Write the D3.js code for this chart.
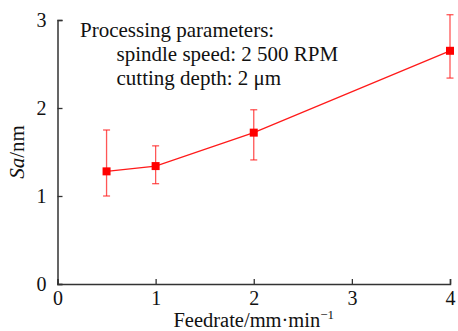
<!DOCTYPE html>
<html>
<head>
<meta charset="utf-8">
<script src="https://cdn.jsdelivr.net/npm/d3@7"></script>
<style>
  body { margin: 0; background: #fff; }
</style>
</head>
<body>
<div id="chart"></div>
<script>
// Data
const feedrates = [0.5, 1, 2, 4];
const sa = [1.28, 1.34, 1.72, 2.65];
const saLow = [1.0, 1.14, 1.41, 2.34];
const saHigh = [1.75, 1.57, 1.98, 3.06];
const xTicks = [0, 1, 2, 3, 4];
const yTicks = [0, 1, 2, 3];
const noteLines = ["Processing parameters:", "spindle speed: 2 500 RPM", "cutting depth: 2 μm"];

const totalWidth = 458;
const totalHeight = 331;
const margin = { top: 20, right: 8, bottom: 47, left: 57.5 };
const width = totalWidth - margin.left - margin.right;
const height = totalHeight - margin.top - margin.bottom;
const serif = "Liberation Serif";

const svg = d3
  .select("#chart")
  .append("svg")
  .attr("width", totalWidth)
  .attr("height", totalHeight)
  .style("display", "block")
  .append("g")
  .attr("transform", `translate(${margin.left},${margin.top})`);

const x = d3.scaleLinear().domain([0, 4]).range([0, width]);
const y = d3.scaleLinear().domain([0, 3]).range([height, 0]);

const axisColor = "#333";

// x axis, ticks pointing inward
const xAxis = svg
  .append("g")
  .attr("transform", `translate(0,${height})`)
  .call(d3.axisBottom(x).tickValues(xTicks).tickSize(-5).tickPadding(9).tickFormat(d3.format("d")));

// y axis, ticks pointing inward
const yAxis = svg
  .append("g")
  .call(d3.axisLeft(y).tickValues(yTicks).tickSize(-5).tickPadding(11).tickFormat(d3.format("d")));

[xAxis, yAxis].forEach((g) => {
  g.select(".domain").attr("stroke", axisColor).attr("stroke-width", 1.5);
  g.selectAll(".tick line").attr("stroke", axisColor).attr("stroke-width", 1.3);
  g.selectAll(".tick text")
    .attr("fill", "#111")
    .attr("font-family", serif)
    .attr("font-size", 20);
});
xAxis.selectAll(".tick text").attr("dy", "0.6em");
yAxis.selectAll(".tick text").attr("dy", "0.33em");

// error bars
const points = feedrates.map((f, i) => ({ f, v: sa[i], lo: saLow[i], hi: saHigh[i] }));
const errColor = "rgba(255,30,30,0.75)";
const capHalf = 3.5;

const errG = svg.append("g");
errG
  .selectAll("line.err")
  .data(points)
  .join("line")
  .attr("class", "err")
  .attr("x1", (d) => x(d.f))
  .attr("x2", (d) => x(d.f))
  .attr("y1", (d) => y(d.lo))
  .attr("y2", (d) => y(d.hi))
  .attr("stroke", errColor)
  .attr("stroke-width", 1.3);
["lo", "hi"].forEach((k) => {
  errG
    .selectAll(`line.cap-${k}`)
    .data(points)
    .join("line")
    .attr("class", `cap-${k}`)
    .attr("x1", (d) => x(d.f) - capHalf)
    .attr("x2", (d) => x(d.f) + capHalf)
    .attr("y1", (d) => y(d[k]))
    .attr("y2", (d) => y(d[k]))
    .attr("stroke", errColor)
    .attr("stroke-width", 1.3);
});

// line
const line = d3
  .line()
  .x((d) => x(d.f))
  .y((d) => y(d.v));
svg
  .append("path")
  .datum(points)
  .attr("fill", "none")
  .attr("stroke", "#ff1a1a")
  .attr("stroke-width", 1.3)
  .attr("d", line);

// square markers
const s = 8;
svg
  .selectAll("rect.marker")
  .data(points)
  .join("rect")
  .attr("class", "marker")
  .attr("x", (d) => x(d.f) - s / 2)
  .attr("y", (d) => y(d.v) - s / 2)
  .attr("width", s)
  .attr("height", s)
  .attr("fill", "#ff0000");

// annotation text
svg
  .append("g")
  .selectAll("text")
  .data(noteLines)
  .join("text")
  .attr("x", (d, i) => (i === 0 ? 80 : 116.5) - margin.left)
  .attr("y", (d, i) => 36.5 + i * 24 - margin.top)
  .attr("fill", "#111")
  .attr("font-family", serif)
  .attr("font-size", 21)
  .text((d) => d);

// x axis title
const xTitle = svg
  .append("text")
  .attr("x", width / 2)
  .attr("y", height + 42.5)
  .attr("text-anchor", "middle")
  .attr("fill", "#111")
  .attr("font-family", serif)
  .attr("font-size", 20.5);
xTitle.append("tspan").text("Feedrate/mm·min");
xTitle.append("tspan").attr("dy", -8).attr("font-size", 13).text("−1");

// y axis title
const yTitle = svg
  .append("text")
  .attr("transform", `translate(${24 - margin.left},${152 - margin.top}) rotate(-90)`)
  .attr("text-anchor", "middle")
  .attr("fill", "#111")
  .attr("font-family", serif)
  .attr("font-size", 21);
yTitle.append("tspan").attr("font-style", "italic").text("Sa");
yTitle.append("tspan").text("/nm");
</script>
</body>
</html>
